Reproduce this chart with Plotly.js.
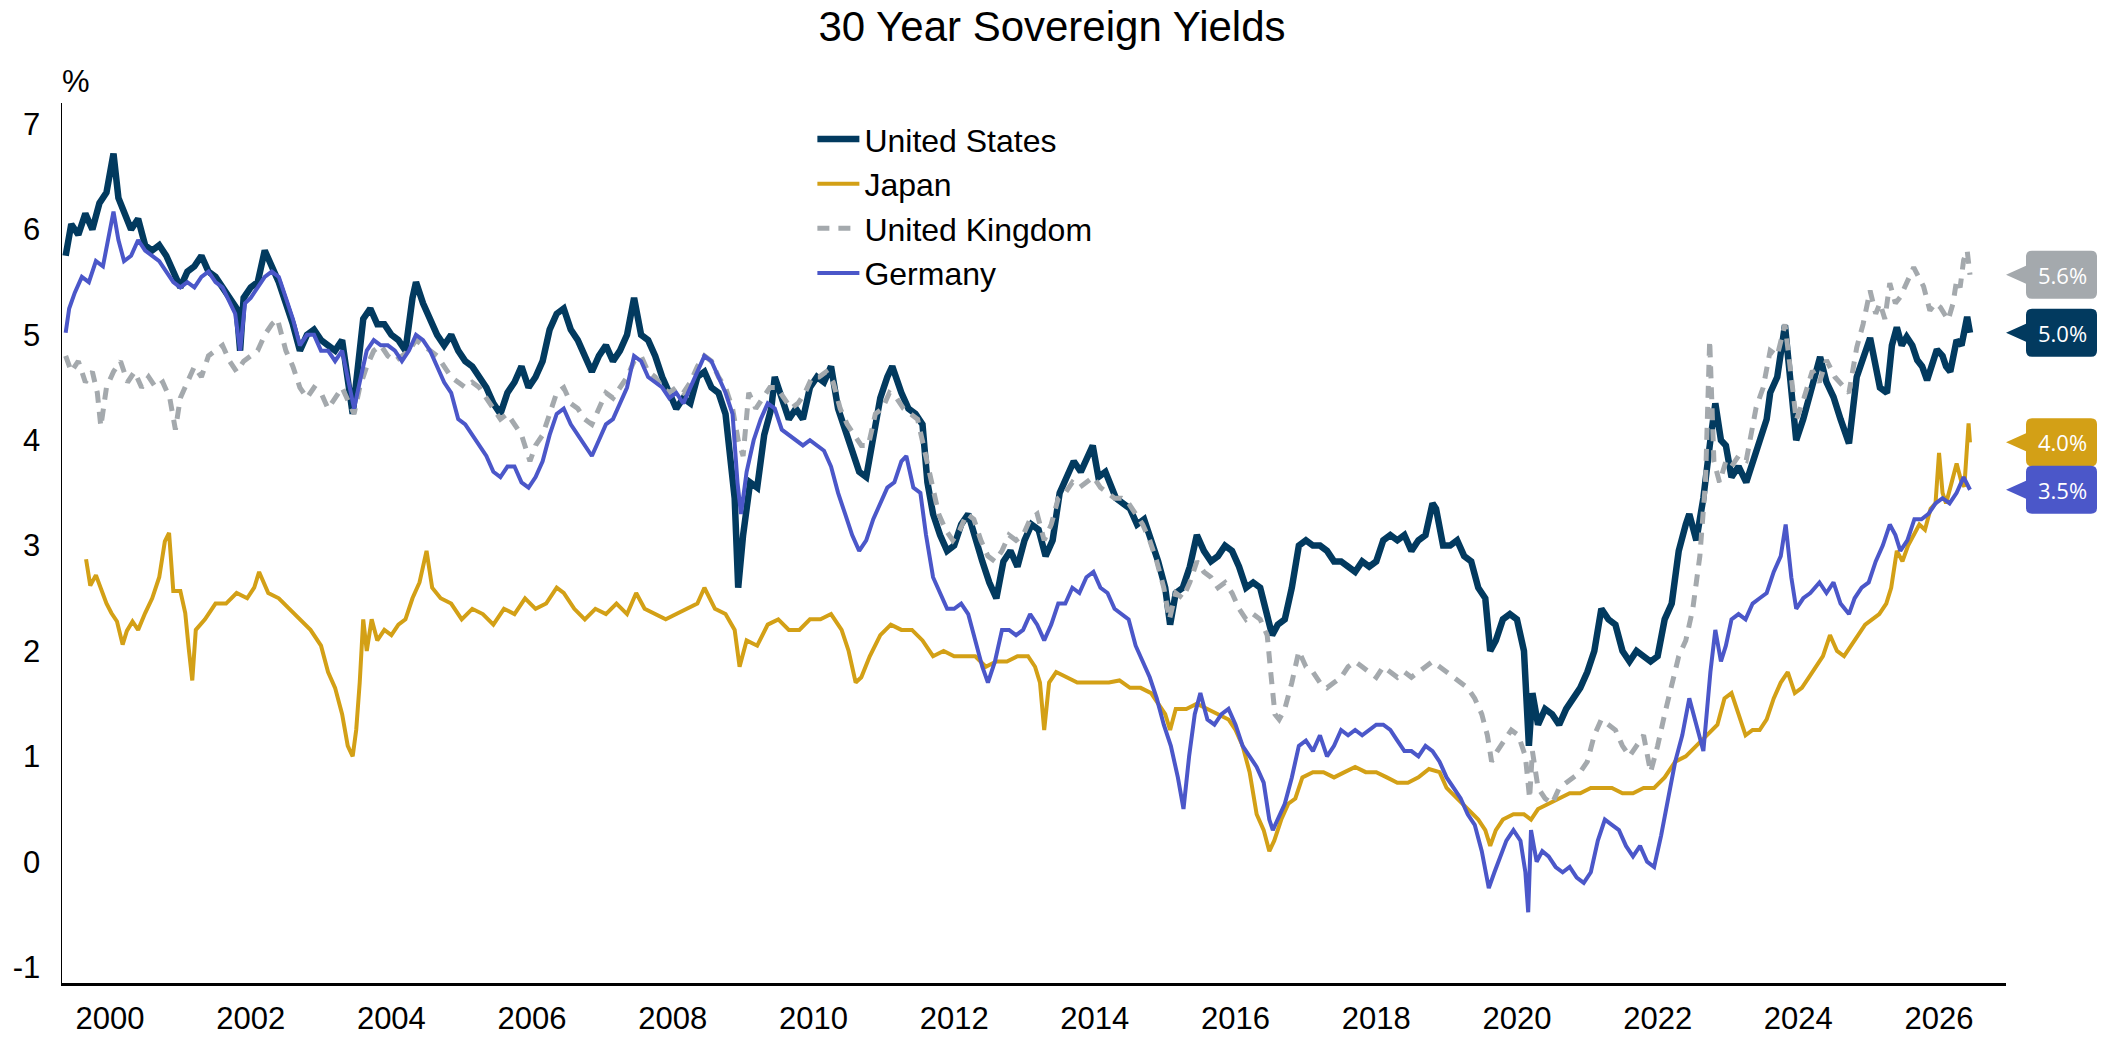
<!DOCTYPE html>
<html>
<head>
<meta charset="utf-8">
<script src="https://cdn.plot.ly/plotly-3.0.1.min.js"></script>
<style>html,body{margin:0;padding:0;background:#fff;}#chart{width:2104px;height:1038px;}</style>
</head>
<body>
<div id="chart"></div>
<script>
// ---- Data (decimal years, yield %) ----
var seriesNames = ["United States", "Japan", "United Kingdom", "Germany"];
var tickYears = [2000,2002,2004,2006,2008,2010,2012,2014,2016,2018,2020,2022,2024,2026];
var tickLabels = ["2000","2002","2004","2006","2008","2010","2012","2014","2016","2018","2020","2022","2024","2026"];
var yTicks = [-1,0,1,2,3,4,5,6,7];
var yTickLabels = ["-1","0","1","2","3","4","5","6","7"];

var usX = [1999.37,1999.45,1999.55,1999.65,1999.75,1999.85,1999.95,2000.05,2000.12,2000.2,2000.3,2000.4,2000.5,2000.6,2000.7,2000.8,2000.9,2001.0,2001.1,2001.2,2001.3,2001.4,2001.5,2001.6,2001.7,2001.8,2001.85,2001.9,2002.0,2002.1,2002.2,2002.3,2002.4,2002.5,2002.6,2002.7,2002.8,2002.9,2003.0,2003.1,2003.2,2003.3,2003.4,2003.45,2003.5,2003.6,2003.7,2003.8,2003.9,2004.0,2004.1,2004.2,2004.3,2004.35,2004.45,2004.55,2004.65,2004.75,2004.85,2004.95,2005.05,2005.15,2005.25,2005.35,2005.45,2005.55,2005.65,2005.75,2005.85,2005.95,2006.05,2006.15,2006.25,2006.35,2006.45,2006.55,2006.65,2006.75,2006.85,2006.95,2007.05,2007.15,2007.25,2007.35,2007.45,2007.55,2007.65,2007.75,2007.85,2007.95,2008.05,2008.15,2008.25,2008.35,2008.45,2008.55,2008.65,2008.75,2008.82,2008.88,2008.93,2009.0,2009.1,2009.2,2009.3,2009.4,2009.45,2009.55,2009.65,2009.75,2009.85,2009.95,2010.05,2010.15,2010.25,2010.35,2010.45,2010.55,2010.65,2010.75,2010.85,2010.95,2011.05,2011.12,2011.25,2011.35,2011.45,2011.55,2011.62,2011.7,2011.8,2011.9,2012.0,2012.1,2012.2,2012.3,2012.4,2012.5,2012.6,2012.7,2012.8,2012.9,2013.0,2013.1,2013.2,2013.3,2013.4,2013.5,2013.6,2013.7,2013.8,2013.9,2013.97,2014.05,2014.15,2014.3,2014.4,2014.5,2014.6,2014.7,2014.8,2014.9,2015.0,2015.07,2015.15,2015.25,2015.35,2015.45,2015.55,2015.65,2015.75,2015.85,2015.95,2016.05,2016.15,2016.25,2016.35,2016.45,2016.52,2016.6,2016.7,2016.8,2016.9,2017.0,2017.1,2017.2,2017.3,2017.4,2017.5,2017.6,2017.7,2017.8,2017.9,2018.0,2018.1,2018.2,2018.3,2018.4,2018.5,2018.6,2018.7,2018.8,2018.85,2018.95,2019.05,2019.15,2019.25,2019.35,2019.45,2019.55,2019.62,2019.7,2019.8,2019.9,2020.0,2020.1,2020.17,2020.22,2020.3,2020.4,2020.5,2020.6,2020.7,2020.8,2020.9,2021.0,2021.1,2021.2,2021.3,2021.4,2021.5,2021.6,2021.7,2021.8,2021.9,2022.0,2022.1,2022.2,2022.3,2022.4,2022.45,2022.55,2022.65,2022.75,2022.82,2022.9,2022.97,2023.05,2023.15,2023.26,2023.35,2023.45,2023.55,2023.6,2023.7,2023.81,2023.9,2023.97,2024.07,2024.17,2024.31,2024.4,2024.5,2024.6,2024.72,2024.83,2024.95,2025.02,2025.1,2025.16,2025.26,2025.33,2025.4,2025.47,2025.54,2025.62,2025.69,2025.76,2025.83,2025.9,2025.97,2026.05,2026.1,2026.16,2026.25,2026.32,2026.4,2026.44];
var usY = [5.75,6.05,5.95,6.15,6.0,6.25,6.35,6.72,6.3,6.15,6.0,6.1,5.85,5.8,5.85,5.75,5.6,5.45,5.6,5.65,5.75,5.6,5.55,5.45,5.35,5.25,4.85,5.35,5.45,5.5,5.8,5.65,5.5,5.3,5.1,4.85,5.0,5.05,4.95,4.9,4.85,4.95,4.5,4.25,4.55,5.15,5.25,5.1,5.1,5.0,4.95,4.85,5.35,5.5,5.3,5.15,5.0,4.9,5.0,4.85,4.75,4.7,4.6,4.5,4.35,4.25,4.45,4.55,4.7,4.5,4.6,4.75,5.05,5.2,5.25,5.05,4.95,4.8,4.65,4.8,4.9,4.75,4.85,5.0,5.35,5.0,4.95,4.8,4.6,4.45,4.3,4.4,4.35,4.6,4.65,4.5,4.45,4.25,3.8,3.45,2.6,3.1,3.6,3.55,4.05,4.3,4.6,4.4,4.2,4.3,4.2,4.5,4.6,4.55,4.7,4.3,4.1,3.9,3.7,3.65,4.05,4.4,4.6,4.7,4.45,4.3,4.25,4.15,3.6,3.3,3.1,2.95,3.0,3.2,3.3,3.05,2.85,2.65,2.5,2.85,2.95,2.8,3.05,3.2,3.15,2.9,3.05,3.5,3.65,3.8,3.7,3.85,3.95,3.65,3.7,3.45,3.4,3.35,3.2,3.25,3.05,2.85,2.6,2.25,2.55,2.6,2.8,3.1,2.95,2.85,2.9,3.0,2.95,2.8,2.6,2.65,2.6,2.3,2.15,2.25,2.3,2.6,3.0,3.05,3.0,3.0,2.95,2.85,2.85,2.8,2.75,2.85,2.8,2.85,3.05,3.1,3.05,3.1,2.95,3.05,3.1,3.4,3.35,3.0,3.0,3.05,2.9,2.85,2.6,2.5,2.0,2.1,2.3,2.35,2.3,2.0,1.1,1.6,1.3,1.45,1.4,1.3,1.45,1.55,1.65,1.8,2.0,2.4,2.3,2.25,2.0,1.9,2.0,1.95,1.9,1.95,2.3,2.45,2.95,3.2,3.3,3.05,3.45,4.0,4.35,4.0,3.95,3.65,3.75,3.6,3.8,4.0,4.2,4.45,4.6,5.09,4.5,4.0,4.2,4.45,4.79,4.55,4.41,4.2,3.97,4.6,4.85,4.97,4.7,4.5,4.45,4.9,5.07,4.9,4.98,4.9,4.76,4.7,4.57,4.7,4.86,4.8,4.7,4.65,4.95,4.9,5.17,5.02];

var jpX = [1999.66,1999.72,1999.8,1999.88,1999.95,2000.02,2000.1,2000.18,2000.24,2000.32,2000.4,2000.5,2000.6,2000.7,2000.78,2000.84,2000.9,2001.0,2001.07,2001.12,2001.17,2001.22,2001.35,2001.5,2001.65,2001.8,2001.95,2002.05,2002.12,2002.25,2002.4,2002.55,2002.7,2002.85,2003.0,2003.1,2003.2,2003.3,2003.38,2003.45,2003.5,2003.55,2003.6,2003.65,2003.72,2003.8,2003.9,2004.0,2004.1,2004.2,2004.3,2004.4,2004.5,2004.58,2004.7,2004.85,2005.0,2005.15,2005.3,2005.45,2005.6,2005.75,2005.9,2006.05,2006.2,2006.35,2006.45,2006.6,2006.75,2006.9,2007.05,2007.2,2007.35,2007.48,2007.6,2007.75,2007.9,2008.05,2008.2,2008.35,2008.45,2008.6,2008.75,2008.88,2008.95,2009.05,2009.2,2009.35,2009.5,2009.65,2009.8,2009.95,2010.1,2010.25,2010.4,2010.5,2010.6,2010.68,2010.8,2010.95,2011.1,2011.25,2011.4,2011.55,2011.7,2011.85,2012.0,2012.15,2012.3,2012.45,2012.6,2012.75,2012.9,2013.05,2013.15,2013.22,2013.28,2013.35,2013.45,2013.6,2013.75,2013.9,2014.05,2014.2,2014.35,2014.5,2014.65,2014.8,2014.9,2015.0,2015.07,2015.15,2015.3,2015.45,2015.6,2015.75,2015.9,2016.0,2016.1,2016.2,2016.3,2016.4,2016.48,2016.55,2016.65,2016.75,2016.85,2016.95,2017.1,2017.25,2017.4,2017.55,2017.7,2017.85,2018.0,2018.15,2018.3,2018.45,2018.6,2018.75,2018.9,2019.0,2019.15,2019.3,2019.45,2019.55,2019.62,2019.7,2019.8,2019.95,2020.1,2020.2,2020.3,2020.45,2020.6,2020.75,2020.9,2021.05,2021.2,2021.35,2021.5,2021.65,2021.8,2021.95,2022.1,2022.25,2022.4,2022.55,2022.7,2022.85,2022.95,2023.05,2023.15,2023.25,2023.35,2023.45,2023.55,2023.65,2023.75,2023.85,2023.95,2024.05,2024.15,2024.25,2024.35,2024.45,2024.55,2024.65,2024.75,2024.85,2024.95,2025.05,2025.15,2025.25,2025.32,2025.4,2025.48,2025.56,2025.64,2025.72,2025.8,2025.88,2025.95,2026.0,2026.05,2026.1,2026.18,2026.25,2026.32,2026.36,2026.42,2026.44];
var jpY = [2.87,2.62,2.72,2.57,2.45,2.36,2.28,2.06,2.19,2.28,2.2,2.36,2.5,2.7,3.04,3.12,2.57,2.57,2.36,2.02,1.72,2.2,2.3,2.45,2.45,2.55,2.5,2.6,2.75,2.55,2.5,2.4,2.3,2.2,2.05,1.8,1.65,1.4,1.1,1.0,1.25,1.7,2.3,2.0,2.3,2.1,2.2,2.15,2.25,2.3,2.5,2.65,2.95,2.6,2.5,2.45,2.3,2.4,2.35,2.25,2.4,2.35,2.5,2.4,2.45,2.6,2.55,2.4,2.3,2.4,2.35,2.45,2.35,2.55,2.4,2.35,2.3,2.35,2.4,2.45,2.6,2.4,2.35,2.2,1.85,2.1,2.05,2.25,2.3,2.2,2.2,2.3,2.3,2.35,2.2,2.0,1.7,1.75,1.95,2.15,2.25,2.2,2.2,2.1,1.95,2.0,1.95,1.95,1.95,1.85,1.9,1.9,1.95,1.95,1.85,1.7,1.25,1.7,1.8,1.75,1.7,1.7,1.7,1.7,1.72,1.65,1.65,1.6,1.5,1.4,1.25,1.45,1.45,1.5,1.45,1.4,1.35,1.25,1.1,0.85,0.45,0.3,0.1,0.2,0.4,0.55,0.6,0.8,0.85,0.85,0.8,0.85,0.9,0.85,0.85,0.8,0.75,0.75,0.8,0.88,0.85,0.7,0.6,0.5,0.4,0.3,0.15,0.3,0.4,0.45,0.45,0.4,0.5,0.55,0.6,0.65,0.65,0.7,0.7,0.7,0.65,0.65,0.7,0.7,0.8,0.95,1.0,1.1,1.2,1.3,1.55,1.6,1.4,1.2,1.25,1.25,1.35,1.55,1.7,1.8,1.6,1.65,1.75,1.85,1.95,2.15,2.0,1.95,2.05,2.15,2.25,2.3,2.35,2.45,2.6,2.95,2.85,3.0,3.1,3.2,3.15,3.35,3.4,3.88,3.5,3.4,3.6,3.78,3.6,3.56,4.16,3.98];

var ukX = [1999.37,1999.45,1999.55,1999.65,1999.75,1999.82,1999.87,1999.95,2000.05,2000.15,2000.25,2000.35,2000.45,2000.55,2000.65,2000.75,2000.85,2000.93,2001.0,2001.1,2001.2,2001.3,2001.4,2001.5,2001.6,2001.7,2001.8,2001.9,2002.0,2002.1,2002.2,2002.3,2002.38,2002.5,2002.6,2002.7,2002.8,2002.9,2003.0,2003.1,2003.2,2003.3,2003.4,2003.47,2003.55,2003.65,2003.75,2003.85,2003.95,2004.05,2004.15,2004.25,2004.35,2004.45,2004.55,2004.65,2004.75,2004.85,2004.95,2005.05,2005.15,2005.25,2005.35,2005.45,2005.55,2005.65,2005.75,2005.85,2005.97,2006.05,2006.15,2006.25,2006.35,2006.45,2006.55,2006.65,2006.75,2006.85,2006.95,2007.05,2007.15,2007.25,2007.35,2007.45,2007.55,2007.65,2007.75,2007.85,2007.95,2008.05,2008.15,2008.25,2008.35,2008.45,2008.55,2008.65,2008.75,2008.85,2008.93,2009.0,2009.08,2009.18,2009.28,2009.38,2009.48,2009.58,2009.68,2009.78,2009.88,2009.98,2010.08,2010.18,2010.28,2010.38,2010.48,2010.58,2010.68,2010.78,2010.88,2010.98,2011.08,2011.18,2011.28,2011.38,2011.48,2011.58,2011.68,2011.78,2011.88,2011.98,2012.08,2012.18,2012.28,2012.38,2012.48,2012.58,2012.68,2012.78,2012.88,2012.98,2013.08,2013.18,2013.28,2013.38,2013.48,2013.58,2013.68,2013.78,2013.88,2013.98,2014.08,2014.18,2014.28,2014.38,2014.48,2014.58,2014.68,2014.78,2014.88,2014.98,2015.06,2015.15,2015.25,2015.35,2015.45,2015.55,2015.65,2015.75,2015.85,2015.95,2016.05,2016.15,2016.25,2016.35,2016.45,2016.5,2016.56,2016.62,2016.7,2016.8,2016.9,2017.0,2017.1,2017.2,2017.3,2017.4,2017.5,2017.6,2017.7,2017.8,2017.9,2018.0,2018.1,2018.2,2018.3,2018.4,2018.5,2018.6,2018.7,2018.8,2018.9,2019.0,2019.1,2019.2,2019.3,2019.4,2019.5,2019.58,2019.64,2019.72,2019.82,2019.92,2020.02,2020.12,2020.18,2020.22,2020.3,2020.4,2020.5,2020.6,2020.7,2020.8,2020.9,2021.0,2021.1,2021.2,2021.3,2021.4,2021.5,2021.6,2021.7,2021.8,2021.9,2022.0,2022.1,2022.2,2022.3,2022.4,2022.5,2022.6,2022.68,2022.74,2022.8,2022.88,2022.97,2023.05,2023.15,2023.26,2023.4,2023.5,2023.6,2023.7,2023.81,2023.9,2023.97,2024.08,2024.2,2024.3,2024.4,2024.52,2024.64,2024.72,2024.83,2024.92,2025.02,2025.1,2025.16,2025.23,2025.3,2025.38,2025.45,2025.55,2025.64,2025.71,2025.78,2025.87,2025.95,2026.02,2026.08,2026.13,2026.2,2026.25,2026.3,2026.35,2026.4,2026.44];
var ukY = [4.8,4.65,4.75,4.55,4.65,4.45,4.13,4.5,4.65,4.75,4.55,4.65,4.5,4.6,4.5,4.55,4.4,4.1,4.4,4.55,4.7,4.6,4.8,4.85,4.9,4.75,4.65,4.75,4.8,4.85,5.0,5.1,5.15,4.85,4.7,4.5,4.4,4.5,4.45,4.3,4.4,4.5,4.35,4.25,4.5,4.7,4.85,4.9,4.8,4.75,4.8,4.85,4.95,4.9,4.85,4.8,4.7,4.6,4.55,4.5,4.55,4.5,4.4,4.3,4.2,4.25,4.15,4.05,3.8,3.95,4.05,4.25,4.45,4.5,4.35,4.3,4.2,4.15,4.3,4.45,4.4,4.5,4.6,4.75,4.8,4.65,4.6,4.5,4.45,4.5,4.45,4.55,4.7,4.8,4.75,4.6,4.5,4.3,4.0,3.85,4.45,4.3,4.4,4.5,4.5,4.4,4.3,4.35,4.45,4.6,4.6,4.65,4.55,4.3,4.15,4.05,3.95,3.95,4.25,4.3,4.45,4.4,4.3,4.25,4.2,3.9,3.6,3.3,3.15,3.05,3.15,3.3,3.25,3.05,2.9,2.85,2.95,3.1,3.05,3.1,3.25,3.3,3.05,3.2,3.45,3.5,3.6,3.55,3.6,3.65,3.55,3.5,3.45,3.45,3.4,3.3,3.2,3.05,2.85,2.6,2.3,2.55,2.5,2.65,2.85,2.75,2.7,2.6,2.65,2.55,2.4,2.3,2.35,2.3,2.15,1.8,1.4,1.35,1.45,1.7,2.0,1.85,1.8,1.7,1.65,1.7,1.75,1.85,1.9,1.85,1.8,1.75,1.85,1.8,1.75,1.8,1.75,1.8,1.85,1.9,1.85,1.8,1.75,1.7,1.65,1.55,1.4,1.2,0.95,1.05,1.15,1.25,1.2,1.0,0.6,1.05,0.7,0.6,0.55,0.7,0.75,0.8,0.85,0.95,1.2,1.35,1.3,1.25,1.1,1.0,1.1,1.2,0.85,1.1,1.4,1.7,1.95,2.1,2.4,2.9,3.6,4.95,3.8,3.6,3.8,3.75,3.85,3.81,4.31,4.5,4.85,4.8,5.1,4.6,4.19,4.4,4.66,4.55,4.76,4.6,4.5,4.45,4.88,5.1,5.42,5.2,5.3,5.15,5.49,5.3,5.36,5.5,5.64,5.55,5.46,5.23,5.3,5.26,5.2,5.14,5.3,5.52,5.45,5.71,5.8,5.57];

var deX = [1999.37,1999.42,1999.5,1999.6,1999.7,1999.8,1999.9,1999.97,2000.05,2000.12,2000.2,2000.3,2000.4,2000.5,2000.6,2000.7,2000.8,2000.9,2001.0,2001.1,2001.2,2001.3,2001.4,2001.5,2001.6,2001.7,2001.78,2001.85,2001.92,2002.0,2002.1,2002.2,2002.3,2002.4,2002.5,2002.6,2002.7,2002.8,2002.9,2003.0,2003.1,2003.2,2003.3,2003.4,2003.47,2003.55,2003.65,2003.75,2003.85,2003.95,2004.05,2004.15,2004.25,2004.35,2004.45,2004.55,2004.65,2004.75,2004.85,2004.95,2005.05,2005.15,2005.25,2005.35,2005.45,2005.55,2005.65,2005.75,2005.85,2005.95,2006.05,2006.15,2006.25,2006.35,2006.45,2006.55,2006.65,2006.75,2006.85,2006.95,2007.05,2007.15,2007.25,2007.35,2007.45,2007.55,2007.65,2007.75,2007.85,2007.95,2008.05,2008.15,2008.25,2008.35,2008.45,2008.55,2008.65,2008.75,2008.85,2008.92,2008.97,2009.05,2009.15,2009.25,2009.35,2009.45,2009.55,2009.65,2009.75,2009.85,2009.95,2010.05,2010.15,2010.25,2010.35,2010.45,2010.55,2010.65,2010.75,2010.85,2010.95,2011.05,2011.15,2011.25,2011.32,2011.42,2011.52,2011.6,2011.7,2011.8,2011.9,2012.0,2012.1,2012.2,2012.3,2012.4,2012.48,2012.58,2012.68,2012.78,2012.88,2012.98,2013.08,2013.18,2013.28,2013.38,2013.48,2013.58,2013.68,2013.78,2013.88,2013.98,2014.08,2014.18,2014.28,2014.38,2014.48,2014.58,2014.68,2014.78,2014.88,2014.98,2015.08,2015.18,2015.26,2015.34,2015.42,2015.5,2015.6,2015.7,2015.8,2015.9,2016.0,2016.1,2016.2,2016.3,2016.4,2016.48,2016.53,2016.6,2016.7,2016.8,2016.9,2017.0,2017.1,2017.2,2017.3,2017.4,2017.5,2017.6,2017.7,2017.8,2017.9,2018.0,2018.1,2018.2,2018.3,2018.4,2018.5,2018.6,2018.7,2018.8,2018.9,2019.0,2019.1,2019.2,2019.3,2019.4,2019.5,2019.6,2019.68,2019.76,2019.85,2019.95,2020.05,2020.12,2020.16,2020.2,2020.28,2020.36,2020.45,2020.55,2020.65,2020.75,2020.85,2020.95,2021.05,2021.15,2021.25,2021.35,2021.45,2021.55,2021.65,2021.75,2021.85,2021.95,2022.05,2022.15,2022.25,2022.35,2022.45,2022.55,2022.65,2022.75,2022.82,2022.9,2022.97,2023.05,2023.15,2023.25,2023.35,2023.45,2023.55,2023.65,2023.75,2023.82,2023.9,2023.97,2024.07,2024.17,2024.3,2024.4,2024.5,2024.6,2024.72,2024.8,2024.9,2025.0,2025.1,2025.2,2025.3,2025.38,2025.45,2025.55,2025.65,2025.75,2025.85,2025.95,2026.05,2026.15,2026.25,2026.35,2026.44];
var deY = [5.02,5.25,5.4,5.55,5.5,5.7,5.65,5.9,6.17,5.9,5.7,5.75,5.9,5.8,5.75,5.7,5.6,5.5,5.45,5.5,5.45,5.55,5.6,5.5,5.45,5.3,5.2,4.85,5.3,5.35,5.45,5.55,5.6,5.55,5.35,5.15,4.9,5.0,5.0,4.85,4.85,4.75,4.85,4.5,4.3,4.55,4.85,4.95,4.9,4.9,4.85,4.75,4.85,5.0,4.95,4.85,4.7,4.55,4.45,4.2,4.15,4.05,3.95,3.85,3.7,3.65,3.75,3.75,3.6,3.55,3.65,3.8,4.05,4.25,4.3,4.15,4.05,3.95,3.85,4.0,4.15,4.2,4.35,4.5,4.8,4.75,4.6,4.55,4.5,4.4,4.45,4.35,4.5,4.65,4.8,4.75,4.6,4.45,4.25,3.6,3.3,3.7,4.0,4.2,4.35,4.3,4.1,4.05,4.0,3.95,4.0,3.95,3.9,3.75,3.5,3.3,3.1,2.95,3.05,3.25,3.4,3.55,3.6,3.8,3.85,3.55,3.5,3.1,2.7,2.55,2.4,2.4,2.45,2.35,2.1,1.85,1.7,1.9,2.2,2.2,2.15,2.2,2.35,2.25,2.1,2.25,2.45,2.45,2.6,2.55,2.7,2.75,2.6,2.55,2.4,2.35,2.3,2.05,1.9,1.75,1.55,1.3,1.1,0.8,0.5,1.0,1.4,1.6,1.35,1.3,1.4,1.45,1.3,1.1,1.0,0.9,0.75,0.4,0.3,0.4,0.55,0.8,1.1,1.15,1.05,1.2,1.0,1.1,1.25,1.2,1.25,1.2,1.25,1.3,1.3,1.25,1.15,1.05,1.05,1.0,1.1,1.05,0.95,0.8,0.7,0.6,0.45,0.35,0.1,-0.25,-0.1,0.05,0.2,0.3,0.2,-0.1,-0.48,0.3,0.0,0.1,0.05,-0.05,-0.1,-0.05,-0.15,-0.2,-0.1,0.2,0.4,0.35,0.3,0.15,0.05,0.15,0.0,-0.05,0.25,0.6,0.95,1.2,1.55,1.3,1.05,1.8,2.2,1.9,2.05,2.3,2.35,2.3,2.45,2.5,2.55,2.75,2.9,3.2,2.7,2.4,2.5,2.55,2.65,2.55,2.65,2.45,2.35,2.5,2.6,2.65,2.85,3.0,3.2,3.1,2.95,3.05,3.25,3.25,3.3,3.4,3.45,3.4,3.5,3.65,3.53];

// ---- Styling ----
var colors = {us: "#023a5f", jp: "#d3a016", uk: "#a4a9ad", de: "#4b57c9"};
var FONT = "Liberation Sans, Arial, sans-serif";

var traces = [
  {x: usX, y: usY, name: seriesNames[0], type: "scatter", mode: "lines", line: {color: colors.us, width: 6.5}},
  {x: jpX, y: jpY, name: seriesNames[1], type: "scatter", mode: "lines", line: {color: colors.jp, width: 4}},
  {x: ukX, y: ukY, name: seriesNames[2], type: "scatter", mode: "lines", line: {color: colors.uk, width: 5, dash: "12px,9px"}},
  {x: deX, y: deY, name: seriesNames[3], type: "scatter", mode: "lines", line: {color: colors.de, width: 4}}
];

// callouts at the last value of each series
var callouts = [
  {y: ukY[ukY.length - 1], color: colors.uk},
  {y: usY[usY.length - 1], color: colors.us},
  {y: jpY[jpY.length - 1], color: colors.jp},
  {y: deY[deY.length - 1], color: colors.de}
];
var calloutPath = "M0,0 L20,9 L20,18 Q20,24 26,24 L85,24 Q91,24 91,18 L91,-18 Q91,-24 85,-24 L26,-24 Q20,-24 20,-18 L20,-9 Z";
var shapes = callouts.map(function (c) {
  return {type: "path", xref: "paper", yref: "y", xsizemode: "pixel", ysizemode: "pixel",
    xanchor: 1, yanchor: c.y, path: calloutPath, fillcolor: c.color, line: {width: 0}, layer: "above"};
});
var annotations = callouts.map(function (c) {
  return {xref: "paper", yref: "y", x: 1, y: c.y, xanchor: "center", yanchor: "middle", xshift: 56,
    text: c.y.toFixed(1) + "%", showarrow: false, font: {family: "Open Sans, sans-serif", size: 22, color: "#ffffff"}};
});
annotations.push({xref: "paper", yref: "paper", x: 0, y: 1, xanchor: "left", yanchor: "bottom", xshift: -2, yshift: 2,
  text: "%", showarrow: false, font: {family: FONT, size: 31, color: "#000"}});

var layout = {
  width: 2104, height: 1038,
  paper_bgcolor: "#ffffff", plot_bgcolor: "#ffffff",
  margin: {l: 62, r: 98, t: 103, b: 55, pad: 0},
  font: {family: FONT, color: "#000"},
  title: {text: "30 Year Sovereign Yields", font: {family: FONT, size: 42, color: "#000"},
    x: 0.5, xref: "container", xanchor: "center", y: 0.975, yref: "container", yanchor: "middle"},
  showlegend: true,
  legend: {x: 0.386, y: 0.99, xanchor: "left", yanchor: "top", bgcolor: "rgba(0,0,0,0)", borderwidth: 0,
    font: {family: FONT, size: 32, color: "#000"}, itemwidth: 42, tracegroupgap: 0},
  xaxis: {type: "linear", range: [1999.318, 2026.952], tickmode: "array", tickvals: tickYears, ticktext: tickLabels,
    showgrid: false, zeroline: false, showline: true, linecolor: "#000", linewidth: 2.5, ticks: "",
    tickfont: {family: FONT, size: 31, color: "#000"}, ticklabelstandoff: 6, fixedrange: true},
  yaxis: {range: [-1.151, 7.2], tickmode: "array", tickvals: yTicks, ticktext: yTickLabels, showgrid: false, zeroline: false,
    showline: true, linecolor: "#000", linewidth: 1.5, ticks: "",
    tickfont: {family: FONT, size: 31, color: "#000"}, ticklabelstandoff: 14, fixedrange: true},
  shapes: shapes,
  annotations: annotations
};

Plotly.newPlot("chart", traces, layout, {displayModeBar: false, staticPlot: true});
</script>
</body>
</html>
